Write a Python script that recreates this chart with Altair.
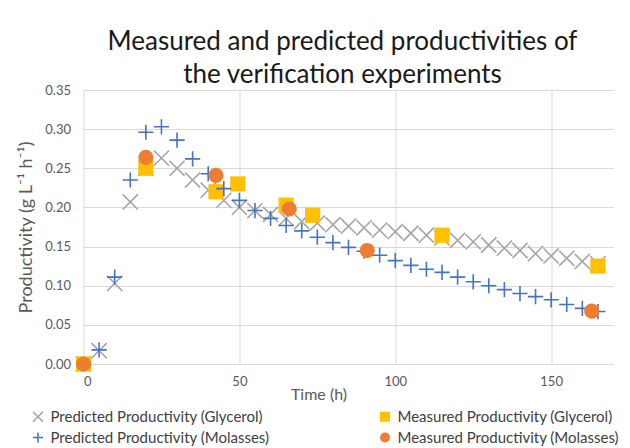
import altair as alt
import pandas as pd

# ---- data ----
hours_pred = [0, 5, 10, 15, 20, 25, 30, 35, 40, 45, 50, 55, 60, 65, 70, 75, 80,
              85, 90, 95, 100, 105, 110, 115, 120, 125, 130, 135, 140, 145, 150,
              155, 160, 165]
pred_glycerol = [0.0, 0.017, 0.103, 0.207, 0.250, 0.263, 0.250, 0.235, 0.222,
                 0.209, 0.200, 0.196, 0.191, 0.186, 0.182, 0.180, 0.178, 0.176,
                 0.174, 0.171, 0.169, 0.167, 0.1645, 0.161, 0.158, 0.156, 0.152,
                 0.148, 0.145, 0.141, 0.138, 0.135, 0.131, 0.128]
pred_molasses = [0.0, 0.018, 0.111, 0.235, 0.296, 0.303, 0.286, 0.262, 0.243,
                 0.224, 0.209, 0.196, 0.186, 0.177, 0.170, 0.162, 0.155, 0.149,
                 0.144, 0.139, 0.132, 0.126, 0.121, 0.117, 0.111, 0.105, 0.100,
                 0.095, 0.090, 0.086, 0.082, 0.076, 0.071, 0.067]
meas_glycerol_t = [0, 20, 42.5, 49.5, 65, 73.5, 115, 165]
meas_glycerol = [0.0, 0.250, 0.220, 0.230, 0.203, 0.190, 0.1645, 0.125]
meas_molasses_t = [0, 20, 42.5, 66, 91, 163]
meas_molasses = [0.0, 0.264, 0.241, 0.198, 0.145, 0.0676]

series_names = ["Predicted Productivity (Glycerol)",
                "Measured Productivity (Glycerol)",
                "Predicted Productivity (Molasses)",
                "Measured Productivity (Molasses)"]
x_ticks = [0, 50, 100, 150]
y_ticks = [0, 0.05, 0.10, 0.15, 0.20, 0.25, 0.30, 0.35]

rows = []
for name, xs, ys in [(series_names[0], hours_pred, pred_glycerol),
                     (series_names[1], meas_glycerol_t, meas_glycerol),
                     (series_names[2], hours_pred, pred_molasses),
                     (series_names[3], meas_molasses_t, meas_molasses)]:
    for t, v in zip(xs, ys):
        rows.append({"Time": t, "Productivity": v, "Series": name})
df = pd.DataFrame(rows)

# legend fills column by column: order so rows read as in the reference
legend_order = [series_names[0], series_names[2], series_names[1], series_names[3]]
shape_range = ["M-1,-1L1,1M-1,1L1,-1", "M-1,0L1,0M0,-1L0,1", "square", "circle"]
fill_range = ["transparent", "transparent", "#FFC000", "#ED7D31"]
stroke_range = ["#A5A5A5", "#4472C4", "transparent", "transparent"]

FONT = "Lato"

legend = alt.Legend(title=None, orient="none", legendX=-53, legendY=319,
                    columns=2, columnPadding=107, rowPadding=4,
                    labelFontSize=15, labelColor="#404040", labelFont=FONT,
                    labelLimit=0, symbolSize=100, symbolStrokeWidth=1.5,
                    labelOffset=5)

chart = alt.Chart(df).mark_point(filled=True, size=230, strokeWidth=1.6, opacity=1).encode(
    x=alt.X("Time:Q", scale=alt.Scale(domain=[0, 170], nice=False),
            axis=alt.Axis(values=x_ticks, title="Time (h)", titleX=235,
                          titleY=30, titleBaseline="middle", titleFontSize=16,
                          titleFontWeight="normal", titleColor="#595959",
                          labelPadding=11, labelFontSize=13, labelColor="#595959",
                          ticks=False, domain=False, grid=True, gridColor="#D9D9D9")),
    y=alt.Y("Productivity:Q", scale=alt.Scale(domain=[0, 0.35], nice=False),
            axis=alt.Axis(values=y_ticks, format=".2f",
                          title="Productivity (g L\u207b\u00b9 h\u207b\u00b9)",
                          titleFontSize=18, titleFontWeight="normal",
                          titleColor="#595959", titlePadding=9,
                          labelPadding=13, labelFontSize=13, labelColor="#595959",
                          ticks=False, domain=False, grid=True, gridColor="#D9D9D9")),
    shape=alt.Shape("Series:N", scale=alt.Scale(domain=legend_order, range=shape_range),
                    legend=legend),
    fill=alt.Fill("Series:N", scale=alt.Scale(domain=legend_order, range=fill_range),
                  legend=legend),
    stroke=alt.Stroke("Series:N", scale=alt.Scale(domain=legend_order, range=stroke_range),
                      legend=legend),
).properties(
    width=530, height=274,
    title=alt.TitleParams(["Measured and predicted productivities of",
                           "the verification experiments"],
                          anchor="middle", fontSize=26, font=FONT,
                          fontWeight="normal", color="#1a1a1a",
                          lineHeight=33, offset=-4, dx=-6),
    autosize=alt.AutoSizeParams(type="none"),
    padding={"left": 75.5, "top": 82, "right": 8, "bottom": 84},
).configure(font=FONT).configure_view(stroke=None)

chart.save("out.html", embed_options={"renderer": "svg", "actions": False})
